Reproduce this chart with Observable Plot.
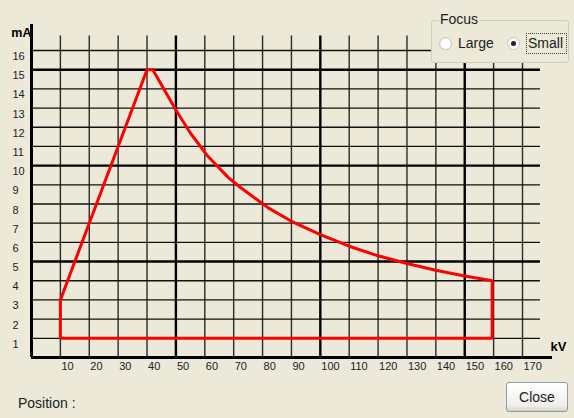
<!DOCTYPE html>
<html><head><meta charset="utf-8">
<script src="https://cdn.jsdelivr.net/npm/d3@7"></script>
<script src="https://cdn.jsdelivr.net/npm/@observablehq/plot@0.6"></script>
<style>
html,body{margin:0;padding:0;background:#ECE9D8;}
#wrap{position:relative;width:574px;height:418px;overflow:hidden;background:#ECE9D8;font-family:"Liberation Sans",Arial,sans-serif;color:#111;}
#chart{position:absolute;left:0;top:0;}
#group{position:absolute;left:431px;top:20px;width:136px;height:41px;border:1px solid #D0D0BF;border-radius:3px;background:#ECE9D8;}
#glabel{position:absolute;left:439px;top:11px;font-size:14px;background:#ECE9D8;padding:0 1px;color:#222;}
.radio{position:absolute;width:11px;height:11px;border-radius:50%;border:1px solid #C8C8C0;background:radial-gradient(circle at 60% 60%,#fff 40%,#e6e6df 100%);}
.dot{position:absolute;left:3px;top:3px;width:5px;height:5px;border-radius:50%;background:#222;}
.rlabel{position:absolute;font-size:14px;color:#222;}
#focus{position:absolute;left:526px;top:33px;width:39px;height:19px;border:1px dotted #444;}
#pos{position:absolute;left:18px;top:395px;font-size:14px;color:#222;}
#close{position:absolute;left:506px;top:382px;width:60px;height:28px;border:1px solid #8D9CAE;border-radius:3px;background:linear-gradient(#FFFFFF,#F0EFEA 80%,#D8D6CC);font-size:14px;color:#222;text-align:center;line-height:28px;box-shadow:inset 0 -1px 0 #D6D0C0;}
</style></head>
<body>
<div id="wrap">
  <div id="chart"></div>
  <div id="group"></div>
  <div id="glabel">Focus</div>
  <div class="radio" style="left:439px;top:37px;"></div>
  <div class="rlabel" style="left:458px;top:35px;">Large</div>
  <div class="radio" style="left:507px;top:37px;"><div class="dot"></div></div>
  <div id="focus"></div>
  <div class="rlabel" style="left:528px;top:35px;">Small</div>
  <div id="pos">Position :</div>
  <div id="close">Close</div>
</div>
<script>
// Envelope of the tube rating (kV vs mA)
const kV = [10, 10, 40, 42, 50, 55, 61, 68, 72, 82, 90, 100, 110, 120, 130, 140, 150, 159.5, 159.5, 10];
const mA = [1, 3, 15, 15, 12.9, 11.7, 10.5, 9.4, 8.9, 7.8, 7.1, 6.4, 5.8, 5.3, 4.9, 4.55, 4.25, 4.0, 1, 1];
const xTicks = [10, 20, 30, 40, 50, 60, 70, 80, 90, 100, 110, 120, 130, 140, 150, 160, 170];
const yTicks = [1, 2, 3, 4, 5, 6, 7, 8, 9, 10, 11, 12, 13, 14, 15, 16];
const majorX = [50, 100, 150];
const majorY = [5, 10, 15];
const xUnit = "kV";
const yUnit = "mA";

// extents of axis and grid lines
const gridTop = 16.75, axisTop = 17.35, gridRight = 176.2, axisRight = 180.4;

const env = kV.map((k, i) => ({kV: k, mA: mA[i]}));

const chart = Plot.plot({
  width: 574, height: 418,
  marginLeft: 31, marginRight: 52, marginTop: 50, marginBottom: 61,
  x: {domain: [0, 170]},
  y: {domain: [0, 16]},
  style: {background: "#ECE9D8", overflow: "visible", fontFamily: "Liberation Sans, Arial, sans-serif"},
  marks: [
    Plot.ruleX(xTicks.filter(d => !majorX.includes(d)), {y1: 0, y2: gridTop, stroke: "#2a2a2a", strokeWidth: 1.4}),
    Plot.ruleY(yTicks.filter(d => !majorY.includes(d)), {x1: 0, x2: gridRight, stroke: "#111", strokeWidth: 1.3}),
    Plot.ruleX(majorX, {y1: 0, y2: gridTop, stroke: "#000", strokeWidth: 2.4}),
    Plot.ruleY(majorY, {x1: 0, x2: gridRight, stroke: "#000", strokeWidth: 2.4}),
    Plot.line(env, {x: "kV", y: "mA", stroke: "#FF0000", strokeWidth: 3, strokeLinejoin: "miter"}),
    Plot.ruleY([0], {x1: 0, x2: axisRight, stroke: "#000", strokeWidth: 3}),
    Plot.ruleX([0], {y1: 0, y2: axisTop, stroke: "#000", strokeWidth: 3}),
    Plot.axisX(xTicks, {tickSize: 0, tickPadding: 5, textAnchor: "start", dx: 1, fontSize: 11, fill: "#222", label: null}),
    Plot.axisY(yTicks, {tickSize: 0, tickPadding: 0, textAnchor: "start", dx: -19, dy: 6, fontSize: 11, fill: "#222", label: null}),
    Plot.text([yUnit], {frameAnchor: "top-left", text: d => d, textAnchor: "end", lineAnchor: "bottom", dx: 0, dy: -14, fontSize: 12.5, fontWeight: "bold", fill: "#000"}),
    Plot.text([xUnit], {frameAnchor: "bottom-right", text: d => d, textAnchor: "start", lineAnchor: "bottom", dx: 28, dy: -7, fontSize: 13, fontWeight: "bold", fill: "#000"})
  ]
});
document.getElementById("chart").appendChild(chart);
</script>
</body></html>
